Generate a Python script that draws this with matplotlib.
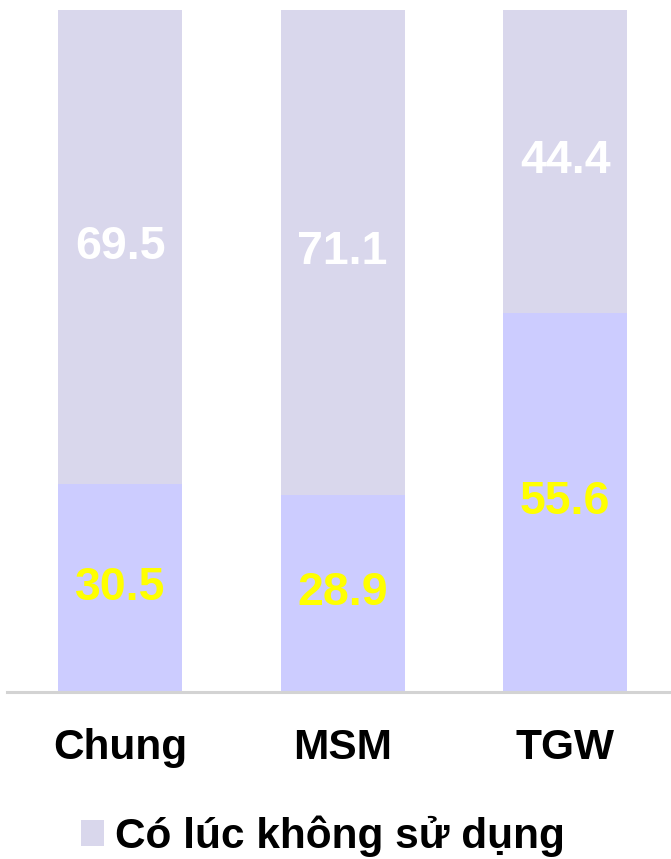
import matplotlib.pyplot as plt
from matplotlib.patches import Patch

categories = ['Chung', 'MSM', 'TGW']
luon_su_dung = [30.5, 28.9, 55.6]
co_luc_khong = [69.5, 71.1, 44.4]
legend_label = 'Có lúc không sử dụng'

bottom_color = '#CCCCFF'
top_color = '#D9D7EC'

plt.rcParams['font.family'] = ['Liberation Sans', 'DejaVu Sans']

fig = plt.figure(figsize=(6.71, 8.59), dpi=100)
ax = fig.add_axes([7 / 671, 167 / 859, 664 / 671, 682 / 859])

x = list(range(len(categories)))
width = 0.557
b1 = ax.bar(x, luon_su_dung, width, color=bottom_color)
b2 = ax.bar(x, co_luc_khong, width, bottom=luon_su_dung, color=top_color)

for xi, lo, hi in zip(x, luon_su_dung, co_luc_khong):
    ax.text(xi, lo / 2, f'{lo:.1f}', ha='center', va='center',
            color='#FFFF00', fontsize=33.5, fontweight='bold')
    ax.text(xi, lo + hi / 2, f'{hi:.1f}', ha='center', va='center',
            color='white', fontsize=33.5, fontweight='bold')

ax.set_xlim(-0.508, 2.476)
ax.set_ylim(0, 100)
ax.set_yticks([])
ax.set_xticks(x)
ax.set_xticklabels(categories, fontsize=30.5, fontweight='bold')
ax.tick_params(axis='x', length=0, pad=26)
for side in ['top', 'right', 'left']:
    ax.spines[side].set_visible(False)
ax.spines['bottom'].set_color('#D3D3D3')
ax.spines['bottom'].set_linewidth(2.2)

fig.legend(handles=[Patch(facecolor=top_color, label=legend_label)],
           loc='center', bbox_to_anchor=(323 / 671, 1 - 836 / 859),
           frameon=False, prop={'size': 30.5, 'weight': 'bold'},
           handlelength=0.55, handleheight=0.55, handletextpad=0.25)

fig.savefig('out.png', dpi=100)
